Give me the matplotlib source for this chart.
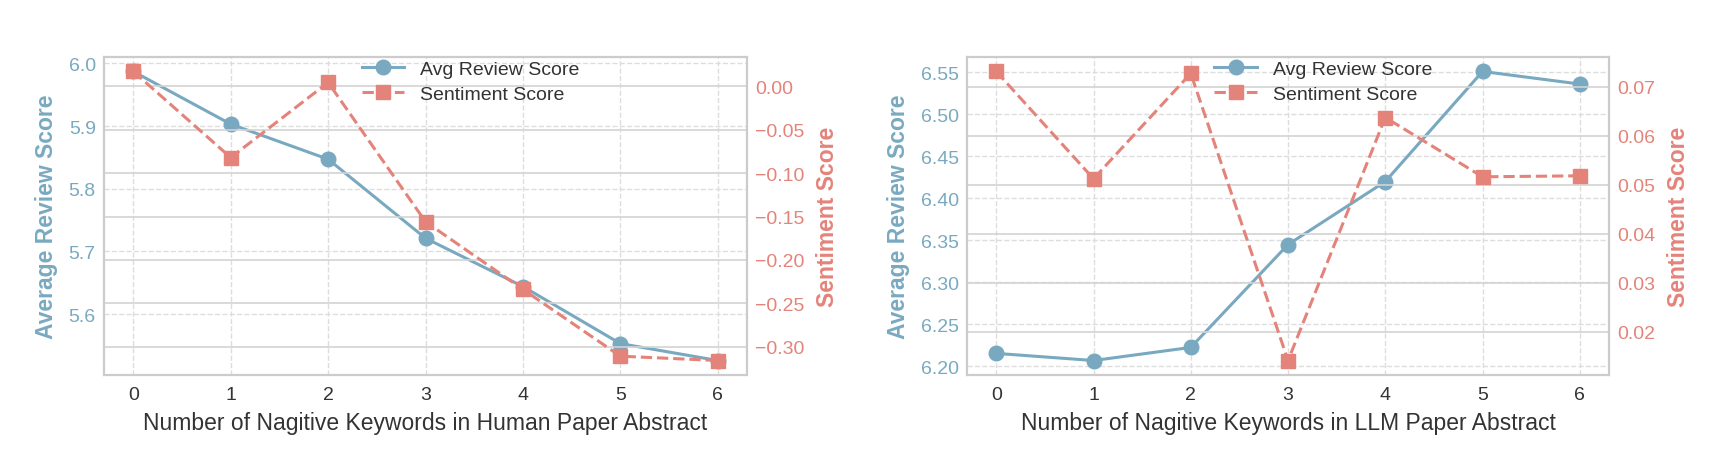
import matplotlib
matplotlib.use("Agg")
import matplotlib.pyplot as plt

plt.rcParams['font.family'] = ['Liberation Sans', 'DejaVu Sans']

keywords = [0, 1, 2, 3, 4, 5, 6]

human_avg_score = [5.987, 5.903, 5.847, 5.721, 5.644, 5.553, 5.526]
human_sentiment = [0.0173, -0.082, 0.0046, -0.156, -0.234, -0.311, -0.316]

llm_avg_score = [6.2155, 6.207, 6.2226, 6.345, 6.420, 6.551, 6.536]
llm_sentiment = [0.0731, 0.0512, 0.0727, 0.0141, 0.0637, 0.0516, 0.0518]

xlabels = ["Number of Nagitive Keywords in Human Paper Abstract",
           "Number of Nagitive Keywords in LLM Paper Abstract"]

BLUE = "#79A9C0"
RED = "#E4837A"
SPINE = "#CCCCCC"

fig = plt.figure(figsize=(17.26, 4.64), dpi=100)
positions = [[0.0603, 0.1897, 0.3725, 0.6853], [0.5603, 0.1897, 0.3719, 0.6853]]
legend_x = [0.57, 0.555]

for i, (avg, sent) in enumerate([(human_avg_score, human_sentiment), (llm_avg_score, llm_sentiment)]):
    ax1 = fig.add_axes(positions[i])
    ax2 = ax1.twinx()
    ax2.patch.set_visible(False)

    l1, = ax1.plot(keywords, avg, color=BLUE, marker='o', markersize=10.5, linewidth=2.2,
                   label='Avg Review Score')
    l2, = ax2.plot(keywords, sent, color=RED, marker='s', markersize=10.5, linewidth=2.2,
                   linestyle='--', label='Sentiment Score')

    ax1.grid(True, linestyle='--', color='#DDDDDD', linewidth=1)
    ax1.set_axisbelow(True)
    ax2.grid(True, axis='y', linestyle='-', color='#D3D3D3', linewidth=1.2)
    ax2.grid(False, axis='x')
    ax2.set_axisbelow(True)

    ax1.set_xticks(keywords)
    ax1.set_xlabel(xlabels[i], fontsize=16.5, color='#333333', labelpad=6)
    ax1.set_ylabel('Average Review Score', fontsize=16.5, fontweight='bold', color=BLUE, labelpad=8)
    ax2.set_ylabel('Sentiment Score', fontsize=16.5, fontweight='bold', color=RED, labelpad=8)

    ax1.tick_params(axis='y', colors=BLUE, labelsize=14, length=0, pad=6)
    ax1.tick_params(axis='x', colors='#333333', labelsize=14, length=0, pad=8)
    ax2.tick_params(axis='y', colors=RED, labelsize=14, length=0, pad=6)

    for ax in (ax1, ax2):
        for s in ax.spines.values():
            s.set_color(SPINE)
            s.set_linewidth(1.5)

    ax2.legend([l1, l2], [l1.get_label(), l2.get_label()], loc='upper center',
               bbox_to_anchor=(legend_x[i], 1.045), frameon=False, fontsize=14,
               handlelength=2.2, labelspacing=0.4, labelcolor='#333333')

fig.savefig('out.png', dpi=100)
